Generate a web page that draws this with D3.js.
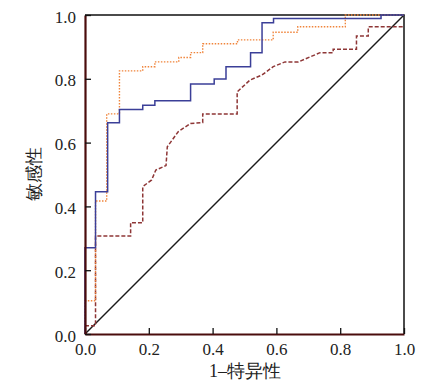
<!DOCTYPE html>
<html>
<head>
<meta charset="utf-8">
<script src="https://cdn.jsdelivr.net/npm/d3@7"></script>
<style>
	body { margin:0; background:#fff; }
	svg text { font-family:"Liberation Serif", "Times New Roman", serif; }
</style>
</head>
<body>
<div id="chart"></div>
<script>
//======================================================================
// ROC curves: [1-specificity, sensitivity]
var blueROC = [[0,0],[0,0.27],[0.033,0.27],[0.033,0.446],[0.071,0.446],[0.071,0.662],
	[0.108,0.662],[0.108,0.704],[0.181,0.704],[0.181,0.717],[0.219,0.717],[0.219,0.731],
	[0.331,0.731],[0.331,0.784],[0.405,0.784],[0.405,0.799],[0.442,0.799],[0.442,0.838],
	[0.519,0.838],[0.519,0.882],[0.555,0.882],[0.555,0.976],[0.591,0.976],[0.591,0.989],
	[0.928,0.989],[0.928,1],[1,1]];

var orangeROC = [[0,0],[0,0.104],[0.033,0.104],[0.033,0.417],[0.068,0.417],[0.068,0.69],
	[0.108,0.69],[0.108,0.825],[0.181,0.825],[0.181,0.838],[0.219,0.838],[0.219,0.853],
	[0.294,0.853],[0.294,0.867],[0.331,0.867],[0.331,0.882],[0.369,0.882],[0.369,0.91],
	[0.478,0.91],[0.478,0.922],[0.59,0.922],[0.59,0.946],[0.667,0.946],[0.667,0.963],
	[0.816,0.963],[0.816,1],[1,1]];

var redROC = [[0,0.026],[0.033,0.026],[0.033,0.307],[0.143,0.307],[0.143,0.349],[0.181,0.349],
	[0.181,0.462],[0.209,0.483],[0.222,0.514],[0.254,0.528],[0.258,0.587],[0.292,0.634],
	[0.331,0.66],[0.369,0.663],[0.369,0.69],[0.477,0.69],[0.477,0.759],[0.517,0.796],
	[0.555,0.812],[0.59,0.838],[0.627,0.853],[0.669,0.853],[0.737,0.882],[0.778,0.882],
	[0.778,0.893],[0.851,0.893],[0.851,0.934],[0.888,0.934],[0.888,0.963],[1,0.963]];

var refLine = [[0,0],[1,1]];
var tickVals = [0,0.2,0.4,0.6,0.8,1.0];
var xTitle = "1\u2013特异性";
var yTitle = "敏感性";
//----------------------------------------------------------------------
var v_W = 429, v_H = 385;
var v_L = 85, v_R = 404, v_T = 15, v_B = 334;
var v_Serif = "'Liberation Serif', 'Times New Roman', serif";

var v_Svg = d3.select("#chart").append("svg")
				.attr("width", v_W)
				.attr("height", v_H);

var x = d3.scaleLinear().domain([0,1]).range([v_L, v_R]);
var y = d3.scaleLinear().domain([0,1]).range([v_B, v_T]);

var line = d3.line()
			.x(function(d){return x(d[0]);})
			.y(function(d){return y(d[1]);});

// frame: top & right thin black
v_Svg.append("path")
	.attr("d", "M"+v_L+","+v_T+"H"+v_R+"V"+v_B)
	.attr("fill","none").attr("stroke","#111").attr("stroke-width",1.5);

// reference diagonal
v_Svg.append("path").datum(refLine)
	.attr("d", line)
	.attr("fill","none").attr("stroke","#1a1a1a").attr("stroke-width",1.4);

// curves
v_Svg.append("path").datum(redROC)
	.attr("d", line)
	.attr("fill","none").attr("stroke","#8e3636").attr("stroke-width",1.5)
	.attr("stroke-dasharray","4,2");

v_Svg.append("path").datum(orangeROC)
	.attr("d", line)
	.attr("fill","none").attr("stroke","#f0843a").attr("stroke-width",1.4)
	.attr("stroke-dasharray","1.5,1.5");

v_Svg.append("path").datum(blueROC)
	.attr("d", line)
	.attr("fill","none").attr("stroke","#3b3f98").attr("stroke-width",1.5);

// axes (ticks inward)
var xAxis = v_Svg.append("g")
	.attr("transform","translate(0,"+v_B+")")
	.call(d3.axisBottom(x).tickValues(tickVals).tickFormat(d3.format(".1f"))
			.tickSizeInner(-6).tickSizeOuter(0).tickPadding(9));

var yAxis = v_Svg.append("g")
	.attr("transform","translate("+v_L+",0)")
	.call(d3.axisLeft(y).tickValues(tickVals).tickFormat(d3.format(".1f"))
			.tickSizeInner(-6).tickSizeOuter(0).tickPadding(9));

[xAxis, yAxis].forEach(function(g){
	g.attr("font-family", v_Serif).attr("font-size", 17);
	g.select(".domain").attr("stroke","#4a0c0c").attr("stroke-width",2.2);
	g.selectAll(".tick line").attr("stroke","#111").attr("stroke-width",1.3);
	g.selectAll(".tick text").attr("fill","#222");
});
yAxis.selectAll(".tick text").attr("dy","0.42em");

// titles
v_Svg.append("text")
	.attr("x", 245).attr("y", 377)
	.attr("text-anchor","middle")
	.attr("fill","#222")
	.attr("font-family", v_Serif)
	.attr("font-size", 18)
	.text(xTitle);

v_Svg.append("text")
	.attr("transform","translate(40,"+174+") rotate(-90)")
	.attr("text-anchor","middle")
	.attr("fill","#222")
	.attr("font-family", v_Serif)
	.attr("font-size", 18)
	.text(yTitle);
//======================================================================
</script>
</body>
</html>
